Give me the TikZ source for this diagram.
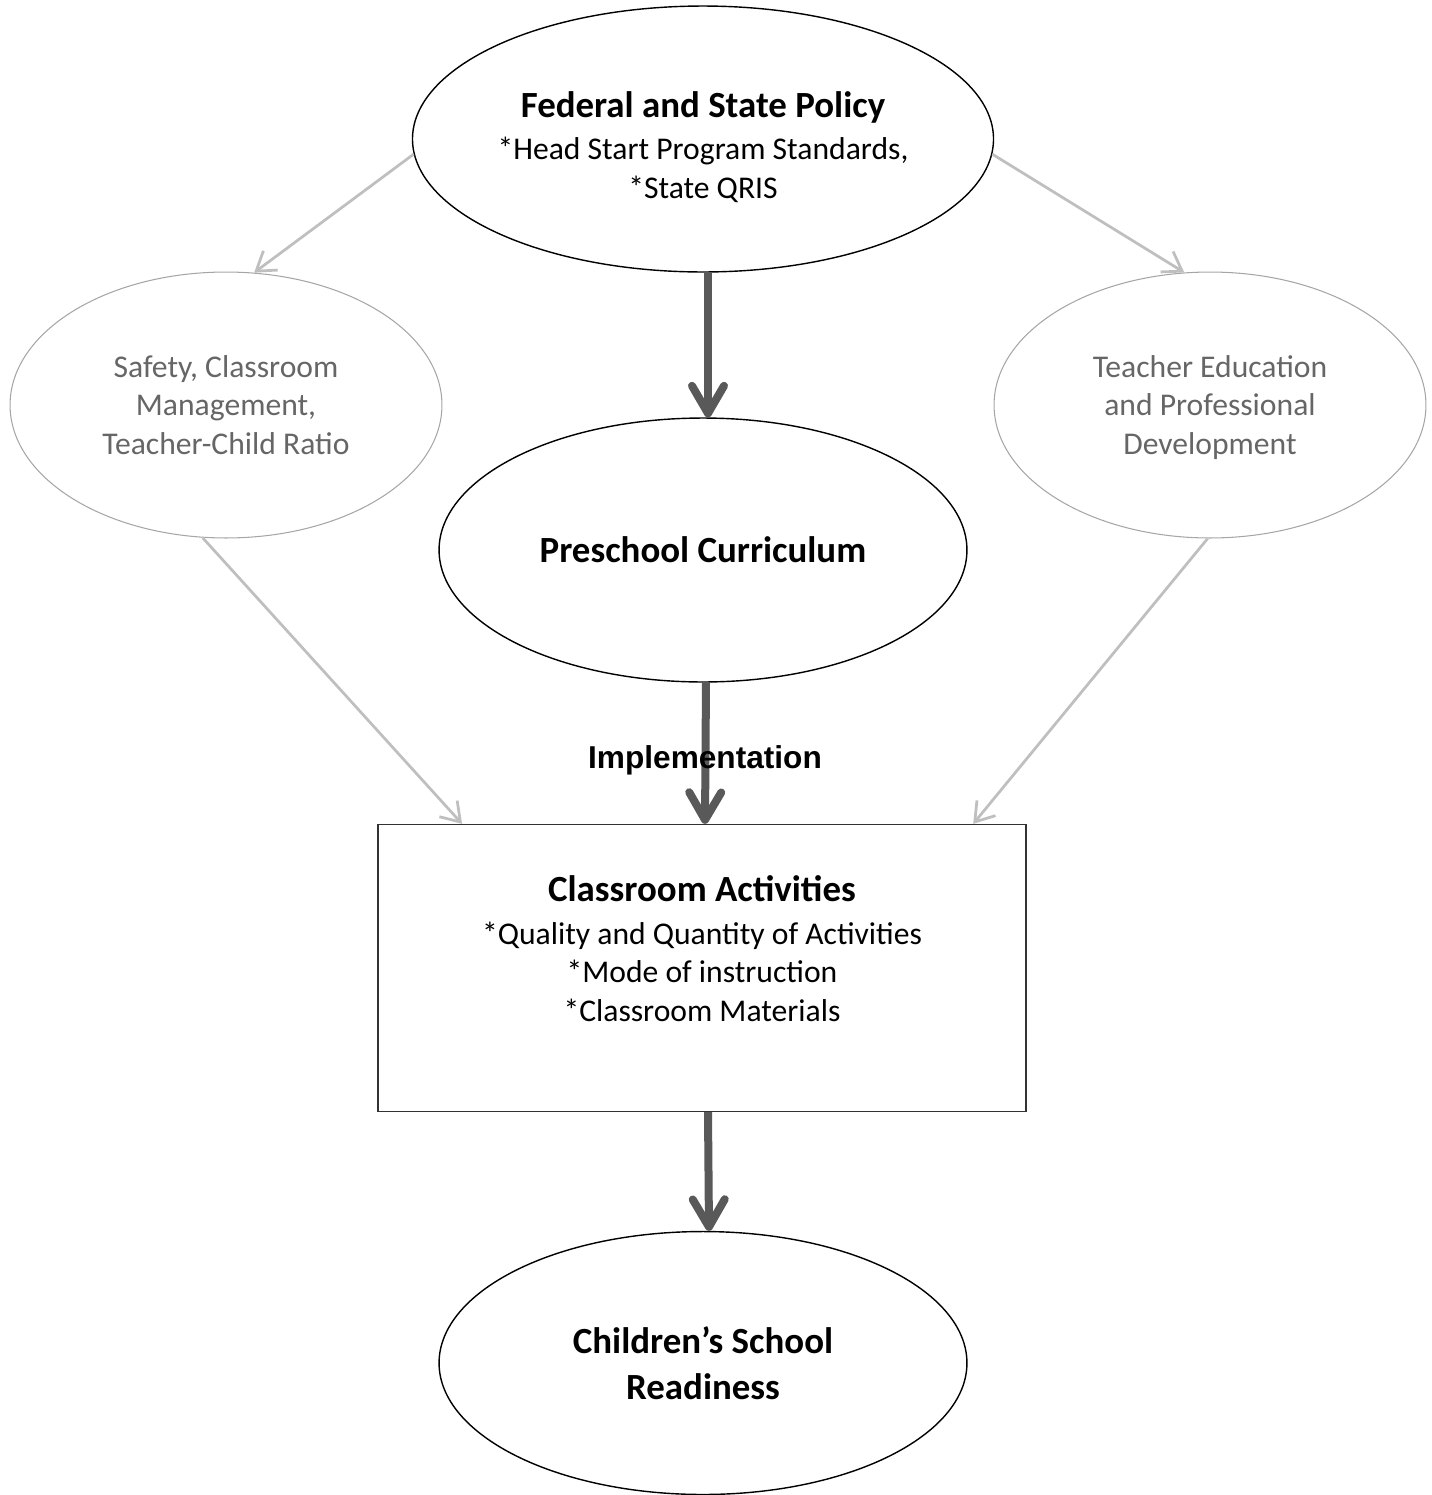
\documentclass[tikz,border=0pt]{standalone}
\usepackage{fontspec}
\setmainfont{Carlito}
\newfontfamily\arialfont{Liberation Sans}
\usepackage{xcolor}
\definecolor{arrowdark}{HTML}{595959}
\definecolor{arrowlight}{HTML}{BFBFBF}
\definecolor{sidegray}{HTML}{A6A6A6}
\definecolor{sidetext}{HTML}{666666}
\usetikzlibrary{shapes.geometric, arrows.meta, positioning}
\newcommand{\hdfont}{\fontsize{21}{26}\selectfont\bfseries}

\begin{document}
\begin{tikzpicture}[
    x=0.02cm, y=-0.02cm,
    mainell/.style={ellipse, draw=black, line width=0.8pt, inner sep=0pt, align=center, font=\fontsize{18}{22}\selectfont},
    sideell/.style={ellipse, draw=sidegray, line width=0.6pt, minimum width=8.64cm, minimum height=5.32cm, inner sep=0pt, align=center, text=sidetext, font=\fontsize{18}{22}\selectfont},
    actbox/.style={rectangle, draw=black!80, line width=0.8pt, minimum width=12.96cm, minimum height=5.74cm, align=center, font=\fontsize{18}{22}\selectfont},
    thickarrow/.style={-{Straight Barb[length=0.55cm, width=0.64cm, line cap=round, line join=round]}, line width=0.16cm, draw=arrowdark},
    lightarrow/.style={-{Straight Barb[length=0.36cm, width=0.48cm]}, line width=0.055cm, draw=arrowlight}
]
\useasboundingbox (0,0) rectangle (1432,1495);

% Policy level
\node[mainell, minimum width=11.6cm, minimum height=5.32cm] (policy) at (703,139) {\rule{0pt}{24pt}{\hdfont Federal and State Policy}\\[2pt] *Head Start Program Standards,\\ *State QRIS};

% Side factors
\node[sideell] (safety) at (226,405) {Safety, Classroom\\ Management,\\ Teacher-Child Ratio};
\node[sideell] (teacher) at (1210,405) {Teacher Education\\ and Professional\\ \smash{Development}};

% Curriculum
\node[mainell, minimum width=10.56cm, minimum height=5.28cm, font=\hdfont] (curric) at (703,550) {Preschool Curriculum};

% Classroom activities
\node[actbox] (acts) at (702,968) {{\hdfont Classroom Activities}\\[2pt] *Quality and Quantity of Activities\\ *Mode of instruction\\ *Classroom Materials\\ \mbox{}};

% Outcome
\node[mainell, minimum width=10.56cm, minimum height=5.26cm, font=\hdfont] (ready) at (703,1363) {Children’s School\\ Readiness};

% Arrows
\draw[thickarrow] ([xshift=0.1cm]policy.south) -- ([xshift=0.1cm]curric.north);
\draw[thickarrow] ([xshift=0.06cm]curric.south) -- ([xshift=0.06cm]acts.north);
\draw[thickarrow] ([xshift=0.12cm]acts.south) -- ([xshift=0.12cm]ready.north);
\node[font=\arialfont\bfseries\fontsize{18}{22}\selectfont] (impl) at (705,760) {Implementation};

\draw[lightarrow] (policy.183) -- (safety.78);
\draw[lightarrow] (policy.357) -- (teacher.101);
\draw[lightarrow] (safety.260) -- (acts.149);
\draw[lightarrow] (teacher.269) -- (acts.28);

\end{tikzpicture}
\end{document}
